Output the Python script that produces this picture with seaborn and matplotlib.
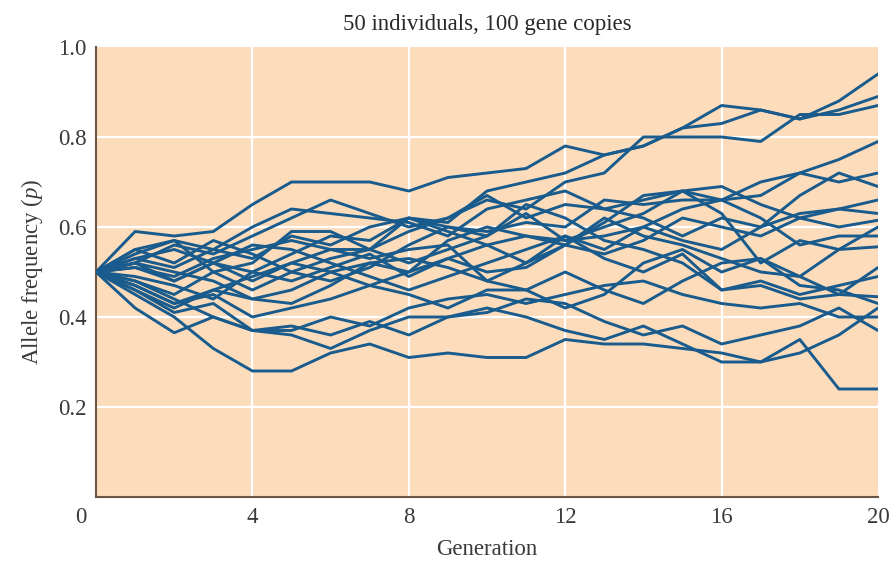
import numpy as np
import pandas as pd
import matplotlib
matplotlib.use("Agg")
import matplotlib.pyplot as plt
import seaborn as sns

# allele frequency per replicate population, generations 0..20
generations = list(range(21))
pop01 = [0.50, 0.59, 0.58, 0.59, 0.65, 0.70, 0.70, 0.70, 0.68, 0.71, 0.72, 0.73, 0.78, 0.76, 0.78, 0.82, 0.83, 0.86, 0.84, 0.86, 0.89]
pop02 = [0.50, 0.53, 0.51, 0.55, 0.53, 0.58, 0.56, 0.60, 0.62, 0.61, 0.68, 0.70, 0.72, 0.76, 0.78, 0.82, 0.87, 0.86, 0.84, 0.88, 0.94]
pop03 = [0.50, 0.52, 0.56, 0.54, 0.58, 0.62, 0.66, 0.63, 0.60, 0.62, 0.66, 0.64, 0.70, 0.72, 0.80, 0.80, 0.80, 0.79, 0.85, 0.85, 0.87]
pop04 = [0.50, 0.51, 0.48, 0.52, 0.50, 0.54, 0.58, 0.57, 0.62, 0.60, 0.59, 0.61, 0.60, 0.66, 0.65, 0.66, 0.66, 0.70, 0.72, 0.75, 0.79]
pop05 = [0.50, 0.54, 0.57, 0.55, 0.60, 0.64, 0.63, 0.62, 0.61, 0.58, 0.64, 0.66, 0.68, 0.64, 0.66, 0.68, 0.66, 0.67, 0.72, 0.70, 0.72]
pop06 = [0.50, 0.48, 0.45, 0.50, 0.46, 0.50, 0.53, 0.55, 0.59, 0.62, 0.67, 0.62, 0.65, 0.64, 0.62, 0.58, 0.62, 0.60, 0.67, 0.72, 0.69]
pop07 = [0.50, 0.47, 0.43, 0.46, 0.49, 0.52, 0.50, 0.47, 0.50, 0.57, 0.60, 0.58, 0.57, 0.60, 0.63, 0.68, 0.69, 0.65, 0.62, 0.64, 0.66]
pop08 = [0.50, 0.55, 0.52, 0.57, 0.54, 0.50, 0.48, 0.51, 0.56, 0.60, 0.58, 0.63, 0.57, 0.58, 0.60, 0.57, 0.55, 0.60, 0.63, 0.64, 0.63]
pop09 = [0.50, 0.52, 0.50, 0.48, 0.44, 0.46, 0.50, 0.52, 0.50, 0.53, 0.56, 0.52, 0.56, 0.54, 0.57, 0.62, 0.60, 0.58, 0.62, 0.60, 0.615]
pop10 = [0.50, 0.46, 0.42, 0.46, 0.44, 0.43, 0.47, 0.52, 0.53, 0.51, 0.48, 0.52, 0.58, 0.55, 0.60, 0.64, 0.66, 0.62, 0.56, 0.58, 0.58]
pop11 = [0.50, 0.49, 0.47, 0.44, 0.50, 0.48, 0.51, 0.54, 0.49, 0.53, 0.50, 0.51, 0.56, 0.62, 0.58, 0.56, 0.53, 0.50, 0.49, 0.55, 0.556]
pop12 = [0.50, 0.53, 0.55, 0.52, 0.48, 0.52, 0.55, 0.53, 0.55, 0.56, 0.48, 0.46, 0.50, 0.46, 0.43, 0.48, 0.52, 0.53, 0.49, 0.45, 0.51]
pop13 = [0.50, 0.52, 0.48, 0.52, 0.56, 0.55, 0.52, 0.49, 0.46, 0.49, 0.52, 0.55, 0.58, 0.53, 0.50, 0.54, 0.46, 0.47, 0.44, 0.45, 0.445]
pop14 = [0.50, 0.47, 0.43, 0.45, 0.40, 0.42, 0.44, 0.47, 0.45, 0.42, 0.46, 0.46, 0.42, 0.45, 0.52, 0.55, 0.50, 0.53, 0.47, 0.46, 0.43]
pop15 = [0.50, 0.48, 0.44, 0.40, 0.37, 0.37, 0.40, 0.38, 0.42, 0.44, 0.45, 0.43, 0.45, 0.47, 0.48, 0.45, 0.43, 0.42, 0.43, 0.40, 0.40]
pop16 = [0.50, 0.46, 0.41, 0.43, 0.37, 0.38, 0.36, 0.39, 0.36, 0.40, 0.41, 0.44, 0.43, 0.39, 0.36, 0.38, 0.34, 0.36, 0.38, 0.42, 0.37]
pop17 = [0.50, 0.45, 0.40, 0.33, 0.28, 0.28, 0.32, 0.34, 0.31, 0.32, 0.31, 0.31, 0.35, 0.34, 0.34, 0.33, 0.32, 0.30, 0.35, 0.24, 0.24]
pop18 = [0.50, 0.42, 0.365, 0.40, 0.37, 0.36, 0.33, 0.37, 0.40, 0.40, 0.42, 0.40, 0.37, 0.35, 0.38, 0.34, 0.30, 0.30, 0.32, 0.36, 0.42]
pop19 = [0.50, 0.51, 0.49, 0.53, 0.55, 0.57, 0.55, 0.55, 0.62, 0.59, 0.56, 0.58, 0.56, 0.61, 0.67, 0.68, 0.63, 0.52, 0.57, 0.55, 0.60]
pop20 = [0.50, 0.55, 0.57, 0.50, 0.52, 0.59, 0.59, 0.55, 0.52, 0.55, 0.58, 0.65, 0.62, 0.57, 0.55, 0.52, 0.46, 0.48, 0.45, 0.47, 0.49]

populations = [pop01, pop02, pop03, pop04, pop05, pop06, pop07, pop08, pop09, pop10,
               pop11, pop12, pop13, pop14, pop15, pop16, pop17, pop18, pop19, pop20]

x_ticks = [0, 4, 8, 12, 16, 20]
x_ticklabels = ["", "4", "8", "12", "16", "20"]
y_ticks = [0.2, 0.4, 0.6, 0.8, 1.0]

rows = []
for i, pop in enumerate(populations):
    for g, p in zip(generations, pop):
        rows.append({"population": i, "generation": g, "p": p})
df = pd.DataFrame(rows)

sns.set_style("white")
plt.rcParams["font.family"] = ["Liberation Serif", "DejaVu Serif"]
plt.rcParams["mathtext.fontset"] = "custom"
plt.rcParams["mathtext.it"] = "Liberation Serif:italic"

text_color = "#3a3a3a"
axis_color = "#6b5646"
fs = 16.5

fig = plt.figure(figsize=(8.92, 5.61), dpi=100)
ax = fig.add_axes([96 / 892, 1 - 497 / 561, (878 - 96) / 892, (497 - 47) / 561])
ax.set_facecolor("#fcdcbb")

sns.lineplot(data=df, x="generation", y="p", units="population", estimator=None,
             color="#185b8c", linewidth=2.1, ax=ax, legend=False, zorder=3)

ax.set_xlim(0, 20)
ax.set_ylim(0, 1.0)
ax.set_xticks(x_ticks)
ax.set_yticks(y_ticks)
ax.set_xticklabels(x_ticklabels, fontsize=fs)
ax.set_yticklabels([f"{t:.1f}" for t in y_ticks], fontsize=fs)

# the "0" at the origin sits left of the corner
ax.annotate("0", xy=(0, 0), xycoords=("data", "axes fraction"),
            xytext=(-11, -7), textcoords="offset points",
            ha="center", va="top", fontsize=fs, color=text_color)

# white grid lines inside the panel
for g in x_ticks[1:-1]:
    ax.axvline(g, color="white", linewidth=1.6, zorder=1)
for v in y_ticks[:-1]:
    ax.axhline(v, color="white", linewidth=1.6, zorder=1)

for side in ["top", "right"]:
    ax.spines[side].set_visible(False)
for side in ["left", "bottom"]:
    ax.spines[side].set_color(axis_color)
    ax.spines[side].set_linewidth(1.5)
ax.tick_params(axis="both", direction="in", length=9, width=1.5, color=axis_color,
               labelcolor=text_color)
ax.tick_params(axis="x", pad=7)
ax.tick_params(axis="y", pad=7)

ax.set_xlabel("Generation", fontsize=fs, color=text_color, labelpad=8)
ax.set_ylabel("Allele frequency ($\\mathit{p}$)", fontsize=fs, color=text_color, labelpad=9)
ax.set_title("50 individuals, 100 gene copies", fontsize=fs, color="#2a2a2a", pad=12)

fig.savefig("out.png", dpi=100)
